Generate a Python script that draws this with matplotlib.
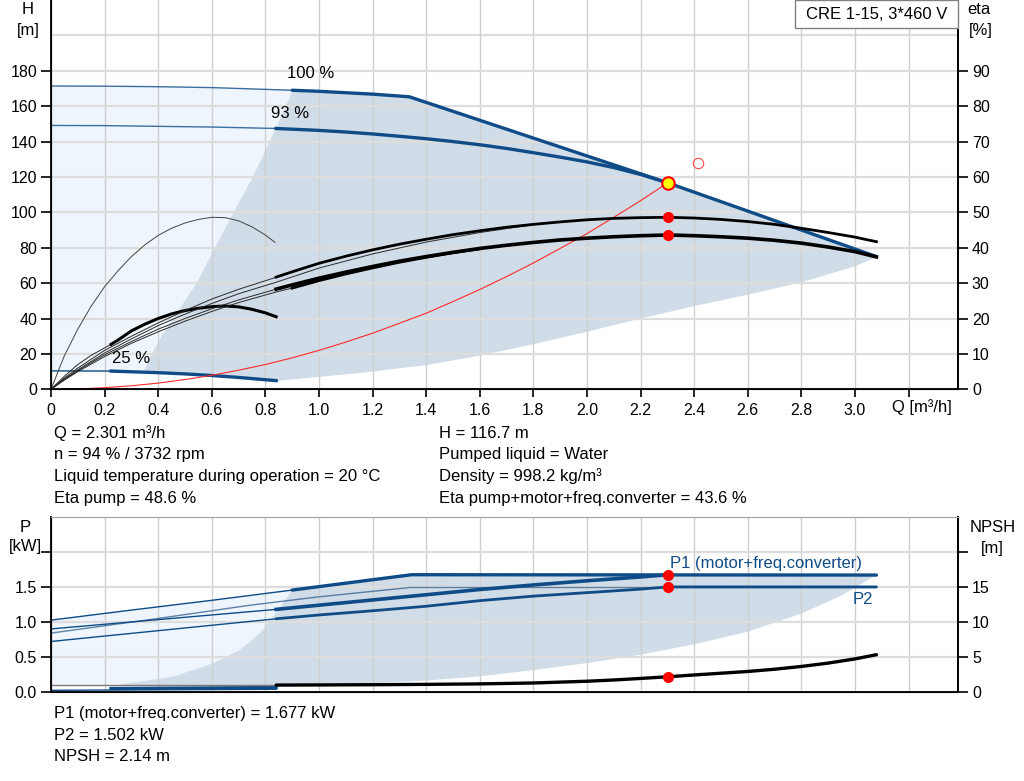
import matplotlib
matplotlib.use("Agg")
import matplotlib.pyplot as plt
from matplotlib.patches import Rectangle
import numpy as np

plt.rcParams["font.family"] = ["Liberation Sans", "DejaVu Sans"]
plt.rcParams["font.size"] = 12

BLUE = "#0f4c87"
LIGHT = "#eef5fc"
DARK = "#d0dce7"
GRID_X = "#cfcfcf"
GRID_Y = "#dddddd"

# ---- head curves (Q m3/h, H m) -------------------------------------------
h100_thin_q = [0, 0.2, 0.4, 0.6, 0.9]
h100_thin_h = [171.4, 171.3, 171.0, 170.5, 169.0]
h100_q = [0.9, 1.0, 1.1, 1.2, 1.337, 2.301, 3.08]
h100_h = [169.0, 168.4, 167.6, 166.8, 165.3, 116.7, 75.0]

h93_thin_q = [0, 0.2, 0.4, 0.6, 0.84]
h93_thin_h = [149.1, 149.0, 148.6, 148.2, 147.4]
h93_q = [0.84, 0.9, 1.0, 1.1, 1.2, 1.3, 1.4, 1.5, 1.6, 1.7, 1.8, 1.9, 2.0, 2.1, 2.2, 2.301]
h93_h = [147.4, 147.0, 146.3, 145.4, 144.3, 143.0, 141.6, 140.0, 138.2, 136.1, 133.7,
         131.2, 128.5, 125.3, 121.4, 116.7]

h25_thin_q = [0, 0.224]
h25_thin_h = [10.4, 10.3]
h25_q = [0.224, 0.3, 0.4, 0.5, 0.6, 0.7, 0.84]
h25_h = [10.3, 9.9, 9.4, 8.7, 7.8, 6.7, 4.9]

# operating range boundaries (top chart)
area_left_q = [0.345, 0.38, 0.419, 0.48, 0.543, 0.61, 0.68, 0.755, 0.84, 0.904]
area_left_h = [10.0, 21.0, 31.6, 45.5, 59.9, 79.5, 99.6, 120.5, 147.6, 169.5]
area_low_q = [0.84, 1.0, 1.2, 1.4, 1.6, 1.8, 2.0, 2.2, 2.4, 2.6, 2.8, 3.0, 3.08]
area_low_h = [4.7, 7.0, 10.0, 13.7, 19.0, 25.5, 32.5, 40.0, 47.0, 53.5, 60.5, 69.5, 74.6]

# system curve
sys_q = [0, 0.1, 0.2, 0.3, 0.4, 0.5, 0.6, 0.7, 0.8, 0.9, 1.0, 1.1, 1.2, 1.3, 1.4, 1.5,
         1.6, 1.7, 1.8, 1.9, 2.0, 2.1, 2.2, 2.301]
sys_h = [0, 0.2, 0.9, 2.0, 3.5, 5.5, 7.9, 10.8, 14.0, 17.8, 22.0, 26.7, 31.7, 37.3, 43.0,
         49.6, 56.4, 63.7, 71.4, 79.6, 88.0, 97.2, 106.6, 116.7]

# ---- efficiency curves (Q, eta %) ----------------------------------------
eta_p_thin_q = [0, 0.05, 0.1, 0.2, 0.3, 0.4, 0.5, 0.6, 0.7, 0.84]
eta_p_thin = [0, 3.2, 6.0, 11.0, 15.0, 18.75, 22.25, 25.5, 28.25, 31.65]
eta_p_q = [0.84, 0.9, 1.0, 1.1, 1.2, 1.3, 1.4, 1.5, 1.6, 1.7, 1.8, 1.9, 2.0, 2.1, 2.2,
           2.301, 2.4, 2.5, 2.6, 2.7, 2.8, 2.9, 3.0, 3.08]
eta_p = [31.7, 33.2, 35.6, 37.6, 39.4, 41.0, 42.4, 43.7, 44.8, 45.8, 46.6, 47.3, 47.9,
         48.3, 48.5, 48.6, 48.4, 48.0, 47.4, 46.6, 45.5, 44.3, 43.0, 41.7]

eta_t_thin_q = [0, 0.05, 0.1, 0.2, 0.3, 0.4, 0.5, 0.6, 0.7, 0.84]
eta_t_thin = [0, 2.8, 5.25, 9.75, 13.5, 17.0, 20.0, 22.75, 25.25, 28.3]
eta_t_q = [0.84, 0.9, 1.0, 1.1, 1.2, 1.3, 1.4, 1.5, 1.6, 1.7, 1.8, 1.9, 2.0, 2.1, 2.2,
           2.301, 2.4, 2.5, 2.6, 2.7, 2.8, 2.9, 3.0, 3.08]
eta_t = [28.3, 29.5, 31.4, 33.1, 34.7, 36.2, 37.5, 38.7, 39.8, 40.7, 41.5, 42.2, 42.7,
         43.1, 43.4, 43.6, 43.4, 43.1, 42.7, 42.1, 41.3, 40.2, 38.9, 37.4]

eta_b_q = [0, 0.05, 0.1, 0.2, 0.3, 0.4, 0.5, 0.6, 0.7, 0.84, 1.0, 1.2, 1.4, 1.6, 1.8]
eta_b = [0, 2.9, 5.5, 10.25, 14.25, 18.0, 21.25, 24.25, 27.0, 30.25, 34.25, 38.25, 41.6,
         44.3, 46.5]

eta_d_thin_q = [0, 0.05, 0.1, 0.2, 0.3, 0.4, 0.5, 0.6, 0.7, 0.84, 0.9]
eta_d_thin = [0, 2.6, 5.0, 9.25, 13.0, 16.25, 19.25, 22.0, 24.5, 27.5, 28.6]
eta_d_q = [0.9, 1.0, 1.1, 1.2, 1.3, 1.4, 1.5, 1.6]
eta_d = [28.6, 30.7, 32.6, 34.3, 35.9, 37.3, 38.6, 39.7]

eta_e_q = [0, 0.05, 0.1, 0.15, 0.2, 0.25, 0.3, 0.35, 0.4, 0.45, 0.5, 0.55, 0.6, 0.65,
           0.7, 0.75, 0.8, 0.836]
eta_e = [0, 9.5, 17.0, 23.5, 29.0, 33.5, 37.5, 40.8, 43.5, 45.5, 47.0, 48.0, 48.6, 48.5,
         47.6, 45.9, 43.6, 41.5]

eta_f_thin_q = [0, 0.05, 0.1, 0.15, 0.224]
eta_f_thin = [0, 3.7, 7.0, 9.6, 12.7]
eta_f_q = [0.224, 0.25, 0.3, 0.35, 0.4, 0.45, 0.5, 0.55, 0.6, 0.65, 0.7, 0.75, 0.8, 0.84]
eta_f = [12.7, 13.9, 16.5, 18.4, 20.0, 21.3, 22.25, 22.9, 23.35, 23.55, 23.3, 22.6, 21.6,
         20.5]

# ---- power curves (Q, P kW) ----------------------------------------------
p1max_thin_q = [0, 0.3, 0.6, 0.9]
p1max_thin = [1.026, 1.17, 1.31, 1.457]
p1max_q = [0.9, 1.346, 3.08]
p1max = [1.457, 1.677, 1.672]

p1_thin_q = [0, 0.3, 0.6, 0.84]
p1_thin = [0.90, 1.0, 1.1, 1.18]
p1_q = [0.84, 1.0, 1.2, 1.4, 1.6, 1.8, 2.0, 2.2, 2.301]
p1 = [1.18, 1.24, 1.315, 1.39, 1.465, 1.53, 1.59, 1.645, 1.677]

p2max_q = [0, 0.4, 0.743, 1.0, 1.34, 3.08]
p2max = [0.84, 1.05, 1.24, 1.36, 1.494, 1.494]

p2_thin_q = [0, 0.84]
p2_thin = [0.72, 1.045]
p2_q = [0.84, 1.0, 1.2, 1.4, 1.6, 1.8, 2.0, 2.2, 2.301, 3.08]
p2 = [1.045, 1.1, 1.16, 1.225, 1.305, 1.37, 1.42, 1.47, 1.502, 1.502]

p25a_q = [0.224, 0.84]
p25a = [0.045, 0.06]
p25b_q = [0, 0.84]
p25b = [0.02, 0.035]

parea_left_q = [0.25, 0.307, 0.456, 0.606, 0.705, 0.78, 0.83, 0.9]
parea_left = [0.1, 0.13, 0.216, 0.408, 0.6, 0.84, 1.08, 1.457]
parea_low_q = [0.84, 1.0, 1.2, 1.4, 1.6, 1.8, 2.0, 2.2, 2.4, 2.6, 2.8, 2.95, 3.08]
parea_low = [0.07, 0.09, 0.12, 0.16, 0.22, 0.31, 0.41, 0.53, 0.68, 0.86, 1.12, 1.38, 1.672]

npsh_thin_q = [0, 0.84]
npsh_thin = [0.96, 0.96]
npsh_q = [0.84, 1.0, 1.2, 1.4, 1.6, 1.8, 2.0, 2.1, 2.2, 2.301, 2.4, 2.5, 2.6, 2.7, 2.8,
          2.9, 3.0, 3.08]
npsh = [0.95, 0.97, 1.0, 1.05, 1.12, 1.25, 1.5, 1.68, 1.9, 2.14, 2.4, 2.65, 2.9, 3.22,
        3.62, 4.1, 4.7, 5.3]

# operating point
q_op = 2.301
h_op = 116.7
eta_pump_op = 48.6
eta_tot_op = 43.6
p1_op = 1.677
p2_op = 1.502
npsh_op = 2.14
q_max_eff, h_max_eff = 2.414, 127.8

q_ticks = [0, 0.2, 0.4, 0.6, 0.8, 1.0, 1.2, 1.4, 1.6, 1.8, 2.0, 2.2, 2.4, 2.6, 2.8, 3.0, 3.2]
q_labels = ["0", "0.2", "0.4", "0.6", "0.8", "1.0", "1.2", "1.4", "1.6", "1.8",
            "2.0", "2.2", "2.4", "2.6", "2.8", "3.0", ""]
h_ticks = [0, 20, 40, 60, 80, 100, 120, 140, 160, 180]
h_top_grid = 200
eta_ticks = [0, 10, 20, 30, 40, 50, 60, 70, 80, 90]
p_ticks = [0, 0.5, 1.0, 1.5, 2.0]
npsh_ticks = [0, 5, 10, 15, 20]

info_left = ["Q = 2.301 m³/h", "n = 94 % / 3732 rpm",
             "Liquid temperature during operation = 20 °C", "Eta pump = 48.6 %"]
info_right = ["H = 116.7 m", "Pumped liquid = Water", "Density = 998.2 kg/m³",
              "Eta pump+motor+freq.converter = 43.6 %"]
info_bottom = ["P1 (motor+freq.converter) = 1.677 kW", "P2 = 1.502 kW", "NPSH = 2.14 m"]

W, H = 1024, 781
fig = plt.figure(figsize=(W / 100, H / 100), dpi=100)


def px(x, y):
    return x / W, 1 - y / H


def style(a, yt, ylabels, right=False):
    a.set_yticks(yt)
    a.set_yticklabels(ylabels)
    a.tick_params(axis="y", length=7, width=1.2, pad=3, labelsize=11.5)
    if right:
        a.yaxis.tick_right()


def gridlines(a):
    a.set_axisbelow(True)
    a.xaxis.grid(True, color=GRID_X, lw=1.0)
    a.yaxis.grid(True, color=GRID_Y, lw=1.6)


ax = fig.add_axes([51 / W, 1 - 389.3 / H, 907 / W, 389.3 / H])
ax.set_xlim(0, 907 / 268)
ax.set_ylim(0, 220)
gridlines(ax)
ax.axhline(h_top_grid, color=GRID_Y, lw=1.6, zorder=0.5)
ax.set_xticks(q_ticks)
ax.set_xticklabels(q_labels)
ax.tick_params(axis="x", length=6, width=1.2, pad=4, labelsize=11.5)
style(ax, h_ticks, [str(t) for t in h_ticks])
ax.spines["top"].set_visible(False)
for s in ["left", "bottom", "right"]:
    ax.spines[s].set_linewidth(1.3)

# shaded areas
light_q = np.concatenate([h100_thin_q, h25_q[::-1], h25_thin_q[::-1]])
light_h = np.concatenate([h100_thin_h, h25_h[::-1], h25_thin_h[::-1]])
ax.fill(light_q, light_h, color=LIGHT, lw=0, zorder=0.2)
dark_q = np.concatenate([area_left_q, h100_q[1:], area_low_q[::-1], h25_q[::-1][1:-1]])
dark_h = np.concatenate([area_left_h, h100_h[1:], area_low_h[::-1], h25_h[::-1][1:-1]])
ax.fill(dark_q, dark_h, color=DARK, lw=0, zorder=0.3)

ax.plot(h100_thin_q, h100_thin_h, color=BLUE, lw=1.0, alpha=0.8)
ax.plot(h100_q, h100_h, color=BLUE, lw=2.4, solid_capstyle="round")
ax.plot(h93_thin_q, h93_thin_h, color=BLUE, lw=1.0, alpha=0.8)
ax.plot(h93_q, h93_h, color=BLUE, lw=2.4)
ax.plot(h25_thin_q, h25_thin_h, color=BLUE, lw=1.0)
ax.plot(h25_q, h25_h, color=BLUE, lw=2.4)
ax.plot(sys_q, sys_h, color="#ff2a2a", lw=0.8)
ax.plot([q_max_eff], [h_max_eff], "o", ms=7.5, mfc="none", mec="#ff4a4a", mew=0.8)
ax.plot([q_op], [h_op], "o", ms=9, mfc="#ffff00", mec="#ff0000", mew=1.5, zorder=5)

ax.text(0.88, 178.5, "100 %", fontsize=12, va="center")
ax.text(0.82, 155.7, "93 %", fontsize=12, va="center")
ax.text(0.226, 17.2, "25 %", fontsize=12, va="center")

ax2 = ax.twinx()
ax2.set_ylim(0, 110)
style(ax2, eta_ticks, [str(t) for t in eta_ticks], right=True)
ax2.spines["top"].set_visible(False)
ax2.spines["right"].set_linewidth(1.3)
thin = dict(color="#2a2a2a", lw=0.7)
ax2.plot(eta_e_q, eta_e, color="#444444", lw=0.7)
ax2.plot(eta_f_thin_q, eta_f_thin, **thin)
ax2.plot(eta_f_q, eta_f, color="black", lw=2.2)
ax2.plot(eta_b_q, eta_b, **thin)
ax2.plot(eta_d_thin_q, eta_d_thin, **thin)
ax2.plot(eta_d_q, eta_d, color="black", lw=2.0)
ax2.plot(eta_p_thin_q, eta_p_thin, **thin)
ax2.plot(eta_p_q, eta_p, color="black", lw=2.0)
ax2.plot(eta_t_thin_q, eta_t_thin, **thin)
ax2.plot(eta_t_q, eta_t, color="black", lw=2.6)
ax2.plot([q_op, q_op], [eta_pump_op, eta_tot_op], "o", ms=8, color="#ff0000", mew=0)

# ---- bottom chart ---------------------------------------------------------
bx = fig.add_axes([51 / W, 1 - 691.7 / H, 907 / W, (691.7 - 517.3) / H])
bx.set_xlim(0, 907 / 268)
bx.set_ylim(0, 2.5)
gridlines(bx)
bx.set_xticks(q_ticks)
bx.tick_params(axis="x", length=0, labelbottom=False)
style(bx, p_ticks, ["0.0", "0.5", "1.0", "1.5", ""])
bx.spines["top"].set_color("#a6a6a6")
for s in ["left", "bottom", "right"]:
    bx.spines[s].set_linewidth(1.3)

plight_q = np.concatenate([p1max_thin_q, [0.84, 0]])
plight_p = np.concatenate([p1max_thin, [0.1, 0.1]])
bx.fill(plight_q, plight_p, color=LIGHT, lw=0, zorder=0.2)
pdark_q = np.concatenate([parea_left_q, p1max_q[1:], parea_low_q[::-1]])
pdark_p = np.concatenate([parea_left, p1max[1:], parea_low[::-1]])
bx.fill(pdark_q, pdark_p, color=DARK, lw=0, zorder=0.3)

bx.plot(p1max_thin_q, p1max_thin, color=BLUE, lw=1.0)
bx.plot(p1max_q, p1max, color=BLUE, lw=2.4, solid_capstyle="round")
bx.plot(p2max_q, p2max, color="#3a6593", lw=1.0, alpha=0.8)
bx.plot(p1_thin_q, p1_thin, color=BLUE, lw=1.0)
bx.plot(p1_q, p1, color=BLUE, lw=2.6)
bx.plot(p2_thin_q, p2_thin, color=BLUE, lw=1.0)
bx.plot(p2_q, p2, color=BLUE, lw=2.0, solid_capstyle="round")
bx.plot(p25b_q, p25b, color=BLUE, lw=1.0)
bx.plot(p25a_q, p25a, color=BLUE, lw=2.4)
bx.plot([q_op, q_op], [p1_op, p2_op], "o", ms=8, color="#ff0000", mew=0, zorder=5)
bx.text(2.31, 1.835, "P1 (motor+freq.converter)", color=BLUE, fontsize=12, va="center")
bx.text(3.03, 1.32, "P2", color=BLUE, fontsize=12, va="center", ha="center")

bx2 = bx.twinx()
bx2.set_ylim(0, 25)
style(bx2, npsh_ticks, ["0", "5", "10", "15", ""], right=True)
bx2.spines["top"].set_color("#a6a6a6")
bx2.spines["right"].set_linewidth(1.3)
bx2.plot(npsh_thin_q, npsh_thin, color="#7a7a7a", lw=1.0)
bx2.plot(npsh_q, npsh, color="black", lw=2.4, solid_capstyle="round")
bx2.plot([q_op], [npsh_op], "o", ms=8, color="#ff0000", mew=0)

# ---- axis titles and info text ------------------------------------------
fs = 12
for txt, (x, y) in [("H", (27.7, 9.5)), ("[m]", (28.3, 30)), ("eta", (979.3, 10)),
                    ("[%]", (980.5, 30)), ("P", (25, 527)), ("[kW]", (25, 547)),
                    ("NPSH", (992.6, 527)), ("[m]", (992.6, 548)),
                    ("Q [m³/h]", (922, 406.7))]:
    fig.text(*px(x, y), txt, ha="center", va="center", fontsize=fs)

fig.add_artist(Rectangle(px(795, 28.3), 163 / W, 28.3 / H, transform=fig.transFigure,
                         facecolor="white", edgecolor="#808080", lw=1.0))
fig.text(*px(876.5, 14.5), "CRE 1-15, 3*460 V", ha="center", va="center", fontsize=fs)

for i, t in enumerate(info_left):
    fig.text(*px(54.3, 433.3 + i * 21.6), t, va="center", fontsize=fs)
for i, t in enumerate(info_right):
    fig.text(*px(439.4, 433.3 + i * 21.6), t, va="center", fontsize=fs)
for i, t in enumerate(info_bottom):
    fig.text(*px(54.3, 713.3 + i * 21.7), t, va="center", fontsize=fs)

fig.savefig("out.png", dpi=100)
